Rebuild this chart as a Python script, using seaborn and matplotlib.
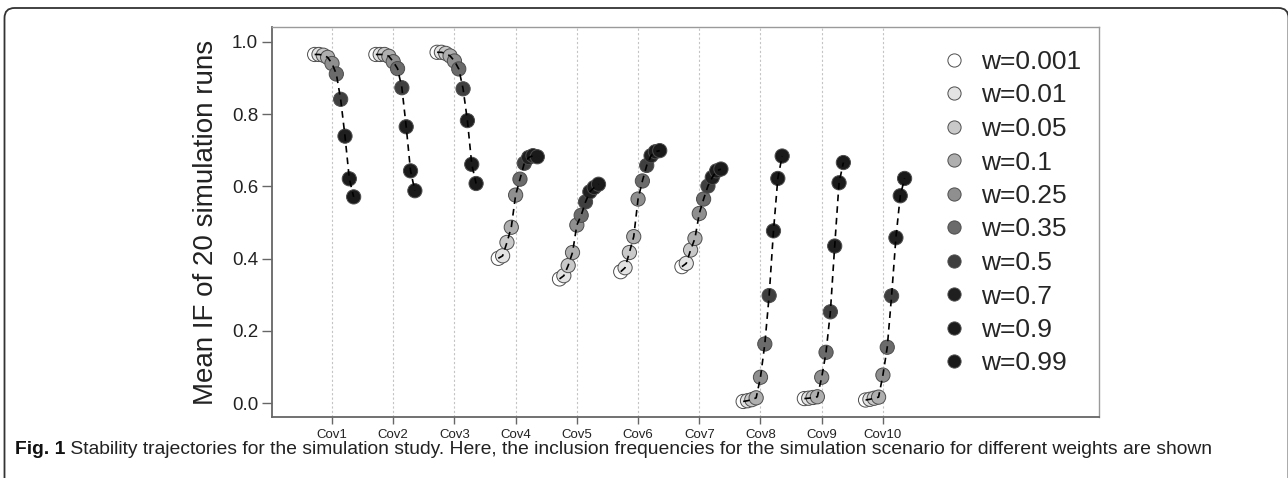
import numpy as np
import pandas as pd
import seaborn as sns
import matplotlib.pyplot as plt
from matplotlib.lines import Line2D
from matplotlib.patches import FancyBboxPatch
from matplotlib.transforms import Bbox, IdentityTransform

sns.set_theme(style="ticks")
plt.rcParams['font.family'] = ['Liberation Sans', 'DejaVu Sans']

covariates = ["Cov1", "Cov2", "Cov3", "Cov4", "Cov5",
              "Cov6", "Cov7", "Cov8", "Cov9", "Cov10"]
weights = ["0.001", "0.01", "0.05", "0.1", "0.25",
           "0.35", "0.5", "0.7", "0.9", "0.99"]

# mean inclusion frequency per covariate, one value per weight
if_cov1 = [0.965, 0.965, 0.963, 0.957, 0.940, 0.911, 0.841, 0.739, 0.621, 0.571]
if_cov2 = [0.965, 0.965, 0.965, 0.960, 0.945, 0.926, 0.873, 0.765, 0.643, 0.588]
if_cov3 = [0.971, 0.971, 0.968, 0.961, 0.947, 0.925, 0.870, 0.782, 0.661, 0.608]
if_cov4 = [0.401, 0.408, 0.445, 0.487, 0.576, 0.620, 0.664, 0.680, 0.685, 0.682]
if_cov5 = [0.344, 0.353, 0.381, 0.417, 0.493, 0.520, 0.557, 0.585, 0.597, 0.606]
if_cov6 = [0.364, 0.375, 0.417, 0.461, 0.565, 0.615, 0.658, 0.685, 0.696, 0.699]
if_cov7 = [0.378, 0.387, 0.424, 0.456, 0.525, 0.565, 0.601, 0.625, 0.643, 0.648]
if_cov8 = [0.005, 0.007, 0.010, 0.015, 0.072, 0.164, 0.298, 0.477, 0.622, 0.684]
if_cov9 = [0.013, 0.014, 0.016, 0.018, 0.072, 0.141, 0.253, 0.435, 0.610, 0.666]
if_cov10 = [0.009, 0.011, 0.014, 0.017, 0.078, 0.155, 0.297, 0.458, 0.574, 0.622]

all_if = [if_cov1, if_cov2, if_cov3, if_cov4, if_cov5,
          if_cov6, if_cov7, if_cov8, if_cov9, if_cov10]

grays = ['#ffffff', '#e3e3e3', '#c9c9c9', '#afafaf', '#8f8f8f',
         '#6b6b6b', '#3f3f3f', '#1f1f1f', '#1b1b1b', '#1a1a1a']
labels = ["w=" + w for w in weights]

# small dodge so the weights sit side by side around each covariate
step = 0.0708
rows = []
for ci, (name, vals) in enumerate(zip(covariates, all_if)):
    for wi, v in enumerate(vals):
        rows.append({"cov": name, "pos": ci + 1 + (wi - 4) * step,
                     "w": labels[wi], "mean_if": v})
df = pd.DataFrame(rows)

fig = plt.figure(figsize=(12.88, 4.88), dpi=100)
ax = fig.add_axes([272 / 1288, 1 - 417 / 488, 827 / 1288, 390 / 488])

for k in range(1, len(covariates) + 1):
    ax.axvline(k, color='#c4c4c4', lw=0.8, ls=(0, (2, 2)), zorder=0)

sns.scatterplot(data=df, x="pos", y="mean_if", hue="w", hue_order=labels,
                palette=grays, s=105, edgecolor='#4d4d4d', linewidth=0.7,
                legend=False, ax=ax, zorder=2)
sns.lineplot(data=df, x="pos", y="mean_if", units="cov", estimator=None,
             sort=False, color='black', lw=1.2, linestyle=(0, (4, 3)),
             ax=ax, zorder=3)

ax.set_xlim(0.02, 13.53)
ax.set_ylim(-0.038, 1.041)
ax.set_xticks(range(1, len(covariates) + 1))
ax.set_xticklabels(covariates, fontsize=9.5, color='#222222')
yt = [0.0, 0.2, 0.4, 0.6, 0.8, 1.0]
ax.set_yticks(yt)
ax.set_yticklabels([f"{v:.1f}" for v in yt], fontsize=13.5, color='#222222')
ax.set_xlabel("")
ax.set_ylabel("Mean IF of 20 simulation runs", fontsize=20, color='#222222')
ax.yaxis.set_label_coords(-0.064, 0.5)

ax.tick_params(axis='y', length=7, width=1, color='#666666', pad=3)
ax.tick_params(axis='x', length=5, width=1, color='#666666', pad=4)
for side in ['left', 'bottom']:
    ax.spines[side].set_color('#666666')
    ax.spines[side].set_linewidth(1.3)
for side in ['top', 'right']:
    ax.spines[side].set_visible(True)
    ax.spines[side].set_color('#9a9a9a')
    ax.spines[side].set_linewidth(1.0)

handles = [Line2D([], [], marker='o', ls='', markersize=9.5,
                  markerfacecolor=c, markeredgecolor='#4d4d4d',
                  markeredgewidth=0.7) for c in grays]
ax.legend(handles, labels, loc='upper left',
          bbox_to_anchor=(941 / 1288, 1 - 50 / 488),
          bbox_transform=fig.transFigure, frameon=False, fontsize=19,
          handlelength=1.0, handletextpad=0.5, labelspacing=0.36,
          borderpad=0, borderaxespad=0)

# caption, scaled to the width it has in the figure
cap_y = 1 - 454 / 488
t1 = fig.text(15 / 1288, cap_y, "Fig. 1", fontweight='bold', fontsize=12,
              va='baseline', color='#111111')
t2 = fig.text(0, cap_y, " Stability trajectories for the simulation study. Here, "
              "the inclusion frequencies for the simulation scenario for "
              "different weights are shown", fontsize=12, va='baseline',
              color='#222222')
r = fig.canvas.get_renderer()
w_total = t1.get_window_extent(r).width + t2.get_window_extent(r).width
fs = 12 * 1202 / w_total
t1.set_fontsize(fs)
t2.set_fontsize(fs)
x2 = 15 + t1.get_window_extent(r).width
t2.set_x(x2 / 1288)

frame = FancyBboxPatch((4.5, -40), 1284, 520,
                       boxstyle="round,pad=0,rounding_size=10",
                       transform=IdentityTransform(), fill=False,
                       edgecolor='#333333', lw=1.3)
fig.add_artist(frame)
frame.set_clip_box(Bbox.from_extents(0, 10, 1288, 488))
frame.set_clip_on(True)

fig.savefig("out.png", dpi=100)
